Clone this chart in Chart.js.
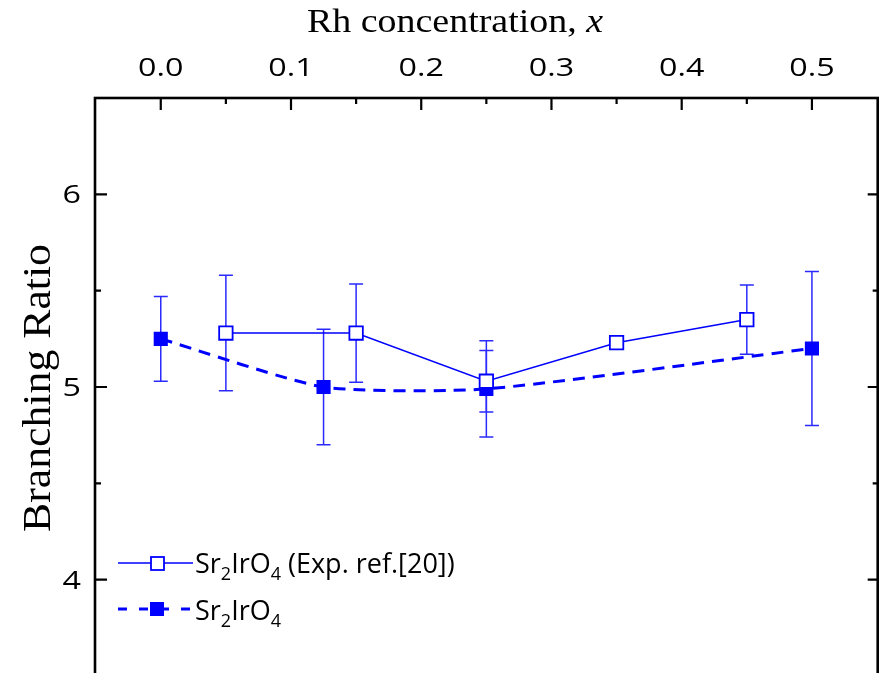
<!DOCTYPE html>
<html>
<head>
<meta charset="utf-8">
<script src="https://cdn.jsdelivr.net/npm/chart.js@4.4.1/dist/chart.umd.min.js"></script>
<style>
html, body { margin: 0; padding: 0; background: #fff; overflow: hidden; }
#wrap { width: 883px; height: 677px; }
</style>
</head>
<body>
<div id="wrap"><canvas id="chart" width="883" height="677"></canvas></div>
<script>
// experimental data (open squares)
var expX = [0.05, 0.15, 0.25, 0.35, 0.45];
var expY = [5.28, 5.28, 5.03, 5.23, 5.35];
var expErr = [0.30, 0.255, 0.16, 0, 0.18];

// calculated data (filled squares)
var calcX = [0.0, 0.125, 0.25, 0.5];
var calcY = [5.25, 5.0, 4.99, 5.2];
var calcErr = [0.22, 0.30, 0.25, 0.40];

// tick values
var xMajor = [0.0, 0.1, 0.2, 0.3, 0.4, 0.5];
var xMinor = [0.05, 0.15, 0.25, 0.35, 0.45];
var xLabels = ['0.0', '0.1', '0.2', '0.3', '0.4', '0.5'];
var yMajor = [4, 5, 6];
var yMinor = [4.5, 5.5];
var yLabels = ['4', '5', '6'];

var blue = '#0000ff';

function toPoints(xs, ys) {
    return xs.map(function (x, i) { return { x: x, y: ys[i] }; });
}

// text drawn with a horizontal stretch sx, returns drawn width
function sText(ctx, str, x, y, font, align, sx) {
    ctx.save();
    ctx.font = font;
    var w = ctx.measureText(str).width * sx;
    var x0 = x;
    if (align === 'center') x0 = x - w / 2;
    if (align === 'right') x0 = x - w;
    ctx.translate(x0, y);
    ctx.scale(sx, 1);
    ctx.textAlign = 'left';
    ctx.fillText(str, 0, 0);
    ctx.restore();
    return w;
}

// text runs: [string, font, dy]
function runsWidth(ctx, runs, sx) {
    var w = 0;
    runs.forEach(function (r) { ctx.font = r[1]; w += ctx.measureText(r[0]).width * sx; });
    return w;
}
function drawRuns(ctx, runs, x, y, sx) {
    runs.forEach(function (r) {
        x += sText(ctx, r[0], x, y + (r[2] || 0), r[1], 'left', sx);
    });
}

var errorBars = {
    id: 'errorBars',
    beforeDatasetsDraw: function (chart) {
        var ctx = chart.ctx;
        var xs = chart.scales.x, ys = chart.scales.y;
        ctx.save();
        ctx.strokeStyle = '#2a2aff';
        ctx.lineWidth = 1.5;
        function bars(X, Y, E) {
            X.forEach(function (x, i) {
                if (!E[i]) return;
                var px = xs.getPixelForValue(x);
                var top = ys.getPixelForValue(Y[i] + E[i]);
                var bot = ys.getPixelForValue(Y[i] - E[i]);
                ctx.beginPath();
                ctx.moveTo(px, top); ctx.lineTo(px, bot);
                ctx.moveTo(px - 7, top); ctx.lineTo(px + 7, top);
                ctx.moveTo(px - 7, bot); ctx.lineTo(px + 7, bot);
                ctx.stroke();
            });
        }
        bars(expX, expY, expErr);
        bars(calcX, calcY, calcErr);
        ctx.restore();
    }
};

var frame = {
    id: 'frame',
    afterDraw: function (chart) {
        var ctx = chart.ctx;
        var a = chart.chartArea;
        var xs = chart.scales.x, ys = chart.scales.y;
        ctx.save();
        ctx.strokeStyle = '#000';
        ctx.lineWidth = 2.6;
        ctx.strokeRect(a.left, a.top, a.right - a.left, a.bottom - a.top);

        ctx.lineWidth = 2.2;
        ctx.beginPath();
        xMajor.forEach(function (v) {
            var p = xs.getPixelForValue(v);
            ctx.moveTo(p, a.top); ctx.lineTo(p, a.top + 12);
        });
        xMinor.forEach(function (v) {
            var p = xs.getPixelForValue(v);
            ctx.moveTo(p, a.top); ctx.lineTo(p, a.top + 6);
        });
        yMajor.forEach(function (v) {
            var p = ys.getPixelForValue(v);
            ctx.moveTo(a.left, p); ctx.lineTo(a.left + 12, p);
            ctx.moveTo(a.right, p); ctx.lineTo(a.right - 10, p);
        });
        yMinor.forEach(function (v) {
            var p = ys.getPixelForValue(v);
            ctx.moveTo(a.left, p); ctx.lineTo(a.left + 6, p);
            ctx.moveTo(a.right, p); ctx.lineTo(a.right - 5, p);
        });
        ctx.stroke();

        // tick labels
        ctx.fillStyle = '#000';
        var tickFont = '26px "Open Sans"';
        xMajor.forEach(function (v, i) {
            sText(ctx, xLabels[i], xs.getPixelForValue(v), 76, tickFont, 'center', 1.24);
        });
        yMajor.forEach(function (v, i) {
            sText(ctx, yLabels[i], 81, ys.getPixelForValue(v) + 9, tickFont, 'right', 1.24);
        });

        // axis titles
        var serif = '33px "Liberation Serif"';
        var title = [['Rh concentration, ', serif], ['x', 'italic ' + serif]];
        drawRuns(ctx, title, 455 - runsWidth(ctx, title, 1.15) / 2, 32, 1.15);

        ctx.save();
        ctx.translate(50, 388);
        ctx.rotate(-Math.PI / 2);
        ctx.font = '35px "Liberation Serif"';
        ctx.textAlign = 'center';
        ctx.scale(1.25, 1.12);
        ctx.fillText('Branching Ratio', 0, 0);
        ctx.restore();

        // legend
        var lf = '27px "Open Sans"', sf = '18px "Open Sans"';
        ctx.strokeStyle = blue;
        ctx.lineWidth = 1.5;
        ctx.beginPath(); ctx.moveTo(118, 563); ctx.lineTo(193, 563); ctx.stroke();
        ctx.fillStyle = '#fff';
        ctx.fillRect(151, 557, 13, 13);
        ctx.lineWidth = 1.8;
        ctx.strokeRect(151, 557, 13, 13);

        ctx.lineWidth = 3;
        ctx.setLineDash([9, 12]);
        ctx.beginPath(); ctx.moveTo(118, 609); ctx.lineTo(196, 609); ctx.stroke();
        ctx.setLineDash([]);
        ctx.fillStyle = blue;
        ctx.fillRect(150, 602, 14, 14);

        ctx.fillStyle = '#000';
        drawRuns(ctx, [['Sr', lf], ['2', sf, 7], ['IrO', lf], ['4', sf, 7], [' (Exp. ref.[20])', lf]], 195, 573, 1.0);
        drawRuns(ctx, [['Sr', lf], ['2', sf, 7], ['IrO', lf], ['4', sf, 7]], 195, 620, 1.0);
        ctx.restore();
    }
};

new Chart(document.getElementById('chart').getContext('2d'), {
    type: 'line',
    data: {
        datasets: [{
            label: 'Sr2IrO4 (Exp. ref.[20])',
            data: toPoints(expX, expY),
            borderColor: blue,
            borderWidth: 1.5,
            tension: 0,
            pointStyle: 'rect',
            pointRadius: 9.5,
            pointBorderWidth: 1.8,
            pointBorderColor: blue,
            pointBackgroundColor: '#fff'
        }, {
            label: 'Sr2IrO4',
            data: toPoints(calcX, calcY),
            borderColor: blue,
            borderWidth: 3,
            borderDash: [12, 8],
            tension: 0.2,
            pointStyle: 'rect',
            pointRadius: 10,
            pointBorderWidth: 0,
            pointBackgroundColor: blue
        }]
    },
    options: {
        responsive: false,
        animation: false,
        layout: { autoPadding: false, padding: { top: 0, left: 0, right: 5.3, bottom: 1 } },
        plugins: { legend: { display: false }, tooltip: { enabled: false } },
        scales: {
            x: {
                type: 'linear', position: 'top', min: -0.0505, max: 0.5505,
                grid: { display: false }, border: { display: false },
                ticks: { display: false },
                afterFit: function (s) { s.height = 98; }
            },
            y: {
                type: 'linear', position: 'left', min: 3.5, max: 6.5,
                grid: { display: false }, border: { display: false },
                ticks: { display: false },
                afterFit: function (s) { s.width = 95; }
            }
        }
    },
    plugins: [errorBars, frame]
});
</script>
</body>
</html>
